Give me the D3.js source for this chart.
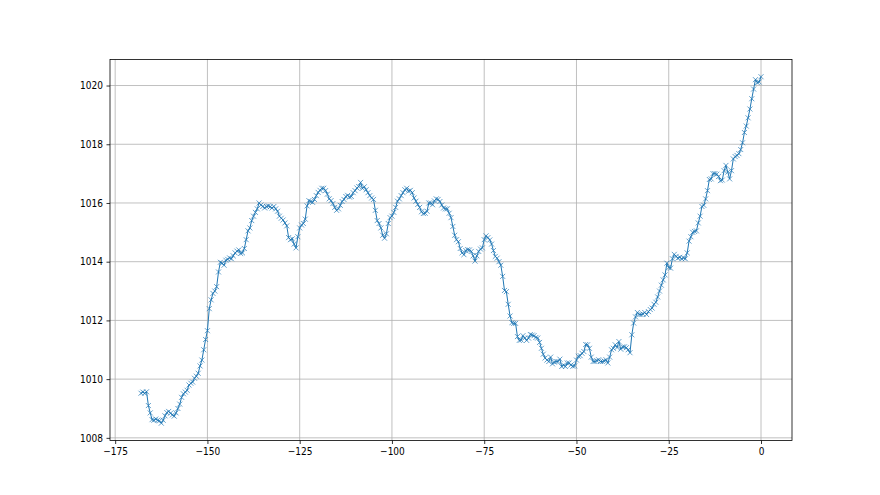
<!DOCTYPE html>
<html>
<head>
<meta charset="utf-8">
<script src="https://cdn.jsdelivr.net/npm/d3@7"></script>
<style>
  body { margin: 0; background: #fff; }
  .tick text { font-family: "Liberation Sans Narrow", "DejaVu Sans Condensed", sans-serif; font-size: 10px; fill: #000; }
</style>
</head>
<body>
<div id="chart"></div>
<script>
// pressure readings, one every half hour, oldest first (hours relative to now)
var startHour = -168,
  stepHour = 0.5;

var pressure = [
  1009.52,1009.56,1009.52,1009.57,1009.1,1008.85,1008.62,1008.6,1008.64,1008.6,
  1008.58,1008.5,1008.6,1008.75,1008.86,1008.9,1008.84,1008.78,1008.74,1008.85,
  1009.0,1009.15,1009.38,1009.5,1009.56,1009.62,1009.8,1009.86,1009.9,1010.03,
  1010.1,1010.2,1010.45,1010.65,1011.0,1011.35,1011.65,1012.4,1012.7,1012.92,
  1013.0,1013.15,1013.65,1013.98,1013.95,1013.88,1014.05,1014.08,1014.13,1014.1,
  1014.2,1014.3,1014.36,1014.4,1014.28,1014.3,1014.45,1014.75,1015.05,1015.15,
  1015.4,1015.55,1015.68,1015.8,1016.0,1015.93,1015.88,1015.83,1015.88,1015.9,
  1015.87,1015.83,1015.88,1015.8,1015.72,1015.55,1015.48,1015.42,1015.32,1015.22,
  1014.82,1014.75,1014.78,1014.6,1014.47,1014.85,1015.15,1015.25,1015.3,1015.45,
  1015.9,1016.08,1016.05,1016.02,1016.12,1016.25,1016.36,1016.43,1016.5,1016.5,
  1016.42,1016.3,1016.14,1016.08,1015.98,1015.85,1015.75,1015.8,1015.92,1016.05,
  1016.12,1016.22,1016.26,1016.2,1016.22,1016.35,1016.42,1016.51,1016.56,1016.7,
  1016.5,1016.55,1016.45,1016.35,1016.25,1016.17,1016.12,1015.75,1015.4,1015.3,
  1015.15,1014.9,1014.8,1014.95,1015.3,1015.5,1015.55,1015.68,1015.85,1016.06,
  1016.14,1016.25,1016.35,1016.45,1016.5,1016.4,1016.43,1016.35,1016.17,1016.06,
  1015.95,1015.85,1015.7,1015.64,1015.65,1015.72,1016.0,1016.0,1015.94,1016.07,
  1016.14,1016.12,1016.05,1015.93,1015.83,1015.8,1015.8,1015.65,1015.5,1015.2,
  1014.9,1014.75,1014.68,1014.45,1014.3,1014.24,1014.38,1014.41,1014.4,1014.35,
  1014.2,1014.02,1014.2,1014.35,1014.43,1014.47,1014.75,1014.88,1014.82,1014.74,
  1014.6,1014.38,1014.18,1014.12,1014.0,1013.88,1013.5,1013.02,1012.98,1012.55,
  1012.15,1011.92,1011.9,1011.9,1011.45,1011.32,1011.33,1011.48,1011.4,1011.32,
  1011.4,1011.52,1011.5,1011.48,1011.42,1011.4,1011.25,1011.05,1010.85,1010.72,
  1010.65,1010.6,1010.75,1010.52,1010.58,1010.6,1010.6,1010.68,1010.43,1010.48,
  1010.43,1010.55,1010.55,1010.48,1010.44,1010.45,1010.65,1010.78,1010.8,1010.88,
  1010.94,1011.18,1011.17,1011.05,1010.75,1010.6,1010.6,1010.63,1010.66,1010.6,
  1010.6,1010.62,1010.66,1010.55,1010.75,1011.0,1011.05,1011.17,1011.08,1011.28,
  1011.02,1011.1,1011.1,1011.07,1011.0,1010.9,1011.51,1011.91,1012.12,1012.27,
  1012.2,1012.2,1012.22,1012.27,1012.2,1012.3,1012.37,1012.42,1012.55,1012.62,
  1012.8,1013.0,1013.2,1013.38,1013.55,1013.95,1013.8,1013.78,1014.1,1014.25,
  1014.18,1014.12,1014.15,1014.1,1014.13,1014.1,1014.3,1014.7,1014.85,1015.0,
  1015.03,1015.05,1015.32,1015.55,1015.88,1015.92,1016.14,1016.42,1016.8,1016.82,
  1017.0,1017.0,1016.98,1016.9,1016.76,1016.78,1017.1,1017.28,1017.05,1016.82,
  1017.1,1017.5,1017.58,1017.62,1017.68,1017.82,1018.05,1018.4,1018.62,1018.9,
  1019.2,1019.55,1019.88,1020.2,1020.1,1020.12,1020.3
];

var xTicks = [-175, -150, -125, -100, -75, -50, -25, 0];
var yTicks = [1008, 1010, 1012, 1014, 1016, 1018, 1020];

var points = pressure.map(function(v, i) {
  return { hour: startHour + i * stepHour, value: v };
});

var width = 880,
  height = 495;
var margin = { top: 59.4, right: 88, bottom: 54.5, left: 110 };

var svg = d3.select("#chart")
  .append("svg")
  .attr("width", width)
  .attr("height", height);

// matplotlib style 5% padding around the data
function padded(ext) {
  var p = (ext[1] - ext[0]) * 0.05;
  return [ext[0] - p, ext[1] + p];
}

var x = d3.scaleLinear()
  .domain(padded(d3.extent(points, function(d) { return d.hour; })))
  .range([margin.left, width - margin.right]);

var y = d3.scaleLinear()
  .domain(padded(d3.extent(points, function(d) { return d.value; })))
  .range([height - margin.bottom, margin.top]);

// grid
svg.append("g")
  .selectAll("line.gx")
  .data(xTicks)
  .enter().append("line")
  .attr("x1", function(d) { return x(d); })
  .attr("x2", function(d) { return x(d); })
  .attr("y1", margin.top)
  .attr("y2", height - margin.bottom)
  .attr("stroke", "#b0b0b0")
  .attr("stroke-width", 0.8);

svg.append("g")
  .selectAll("line.gy")
  .data(yTicks)
  .enter().append("line")
  .attr("y1", function(d) { return y(d); })
  .attr("y2", function(d) { return y(d); })
  .attr("x1", margin.left)
  .attr("x2", width - margin.right)
  .attr("stroke", "#b0b0b0")
  .attr("stroke-width", 0.8);

// line + x markers
var line = d3.line()
  .x(function(d) { return x(d.hour); })
  .y(function(d) { return y(d.value); });

svg.append("path")
  .datum(points)
  .attr("d", line)
  .attr("fill", "none")
  .attr("stroke", "#1f77b4")
  .attr("stroke-width", 1);

var s = 2.5;
svg.append("g")
  .selectAll("path.marker")
  .data(points)
  .enter().append("path")
  .attr("class", "marker")
  .attr("d", function(d) {
    var cx = x(d.hour), cy = y(d.value);
    return "M" + (cx - s) + "," + (cy - s) + "L" + (cx + s) + "," + (cy + s) +
      "M" + (cx - s) + "," + (cy + s) + "L" + (cx + s) + "," + (cy - s);
  })
  .attr("stroke", "#1f77b4")
  .attr("stroke-width", 0.7)
  .attr("fill", "none");

// axes
var xAxis = svg.append("g")
  .attr("transform", "translate(0," + (height - margin.bottom) + ")")
  .call(d3.axisBottom(x).tickValues(xTicks).tickSizeOuter(0).tickSize(3.5).tickPadding(3.5));

var yAxis = svg.append("g")
  .attr("transform", "translate(" + margin.left + ",0)")
  .call(d3.axisLeft(y).tickValues(yTicks).tickFormat(d3.format("d")).tickSizeOuter(0).tickSize(3.5).tickPadding(3.5));

[xAxis, yAxis].forEach(function(a) {
  a.select(".domain").remove();
  a.selectAll(".tick line").attr("stroke", "#000").attr("stroke-width", 0.8);
});

// frame
svg.append("rect")
  .attr("x", margin.left)
  .attr("y", margin.top)
  .attr("width", width - margin.right - margin.left)
  .attr("height", height - margin.bottom - margin.top)
  .attr("fill", "none")
  .attr("stroke", "#000")
  .attr("stroke-width", 0.8);
</script>
</body>
</html>
